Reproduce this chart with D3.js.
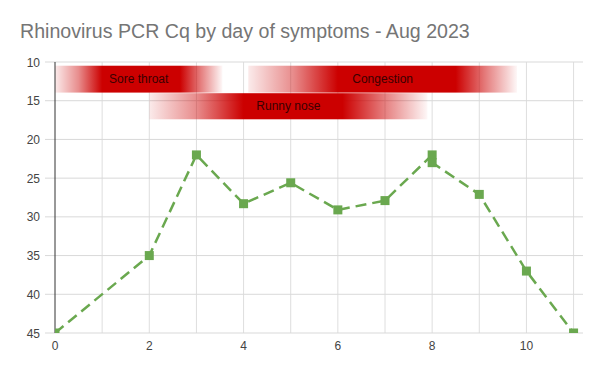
<!DOCTYPE html>
<html>
<head>
<meta charset="utf-8">
<script src="https://cdn.jsdelivr.net/npm/d3@7"></script>
<style>
	body { margin: 0; background: #fff; }
	text { font-family: "Liberation Sans", Arial, sans-serif; }
</style>
</head>
<body>
<svg id="chart" width="603" height="373"></svg>
<script>
// day of symptoms vs PCR Cq
const days		= [0, 2, 3, 4, 5, 6, 7, 8, 8, 9, 10, 11];
const cqValues	= [45, 35, 22, 28.3, 25.6, 29.1, 27.9, 22, 23, 27.1, 37, 45];

const xTicks	= [0, 2, 4, 6, 8, 10];
const yTicks	= [10, 15, 20, 25, 30, 35, 40, 45];

// symptom bands: fade in from start, full from peakStart to peakEnd, fade out to end
const symptomNames	= ['Sore throat', 'Congestion', 'Runny nose'];
const symptomStart	= [0, 4.1, 2];
const symptomPeakA	= [1.0, 6.0, 4.0];
const symptomPeakB	= [2.65, 8.5, 6.1];
const symptomEnd	= [3.55, 9.8, 7.9];
const symptomRow	= [0, 0, 1];

const title = 'Rhinovirus PCR Cq by day of symptoms - Aug 2023';

let svg		= d3.select('#chart');
let padL	= 55, padR = 583, padT = 62, padB = 333;

let x = d3.scaleLinear().domain([0, 11.2]).range([padL, padR]);
let y = d3.scaleLinear().domain([10, 45]).range([padT, padB]);

svg.append('text').attr('x', 20).attr('y', 38).attr('font-size', 19.6).attr('fill', '#757575').text(title);

// gridlines
let grid = svg.append('g');
grid.selectAll('line.v').data(d3.range(1, 12)).join('line').attr('class', 'v')
	.attr('x1', (d) => x(d)).attr('x2', (d) => x(d)).attr('y1', padT).attr('y2', padB)
	.attr('stroke', '#dedede').attr('stroke-width', 1);
grid.selectAll('line.h').data(yTicks).join('line').attr('class', 'h')
	.attr('x1', padL - 10).attr('x2', padR).attr('y1', (d) => y(d)).attr('y2', (d) => y(d))
	.attr('stroke', '#d9d9d9').attr('stroke-width', 1);

// y labels
svg.append('g').selectAll('text').data(yTicks).join('text')
	.attr('x', 40).attr('y', (d) => y(d) + 4.5).attr('text-anchor', 'end')
	.attr('font-size', 12).attr('fill', '#444').text((d) => d);

// x labels
svg.append('g').selectAll('text').data(xTicks).join('text')
	.attr('x', (d) => x(d)).attr('y', 350).attr('text-anchor', 'middle')
	.attr('font-size', 12).attr('fill', '#444').text((d) => d);

// symptom bands
let defs = svg.append('defs');
defs.append('clipPath').attr('id', 'plot').append('rect')
	.attr('x', padL).attr('y', padT).attr('width', padR - padL).attr('height', padB - padT);

let bands = svg.append('g');
symptomNames.forEach((name, i) => {
	let x0 = x(symptomStart[i]), x1 = x(symptomEnd[i]);
	let w = x1 - x0;
	let a = (x(symptomPeakA[i]) - x0) / w, b = (x(symptomPeakB[i]) - x0) / w;
	let grad = defs.append('linearGradient').attr('id', 'grad' + i);
	grad.append('stop').attr('offset', 0).attr('stop-color', '#cc0000').attr('stop-opacity', 0.08);
	grad.append('stop').attr('offset', a * 0.5).attr('stop-color', '#cc0000').attr('stop-opacity', 0.45);
	grad.append('stop').attr('offset', a).attr('stop-color', '#cc0000').attr('stop-opacity', 1);
	grad.append('stop').attr('offset', b).attr('stop-color', '#cc0000').attr('stop-opacity', 1);
	grad.append('stop').attr('offset', b + (1 - b) * 0.5).attr('stop-color', '#cc0000').attr('stop-opacity', 0.5);
	grad.append('stop').attr('offset', 1).attr('stop-color', '#cc0000').attr('stop-opacity', 0.03);

	let yt = y(10.48 + symptomRow[i] * 3.55), yb = y(13.95 + symptomRow[i] * 3.45);
	bands.append('rect').attr('x', x0).attr('y', yt).attr('width', w).attr('height', yb - yt)
		.attr('fill', 'url(#grad' + i + ')');
	bands.append('text').attr('x', (x0 + x1) / 2).attr('y', (yt + yb) / 2 + 4)
		.attr('text-anchor', 'middle').attr('font-size', 12).attr('fill', '#3a0000').text(name);
});

// y axis baseline (day 0)
svg.append('line').attr('x1', x(0)).attr('x2', x(0)).attr('y1', padT).attr('y2', padB)
	.attr('stroke', '#333').attr('stroke-width', 1);

// series
let pts = days.map((d, i) => [d, cqValues[i]]);
let series = svg.append('g').attr('clip-path', 'url(#plot)');
series.append('path').datum(pts)
	.attr('d', d3.line().x((d) => x(d[0])).y((d) => y(d[1])))
	.attr('fill', 'none').attr('stroke', '#6aa84f').attr('stroke-width', 2.5)
	.attr('stroke-dasharray', '11,6');
series.selectAll('rect').data(pts).join('rect')
	.attr('x', (d) => x(d[0]) - 4.5).attr('y', (d) => y(d[1]) - 4.5)
	.attr('width', 9).attr('height', 9).attr('fill', '#6aa84f');
</script>
</body>
</html>
